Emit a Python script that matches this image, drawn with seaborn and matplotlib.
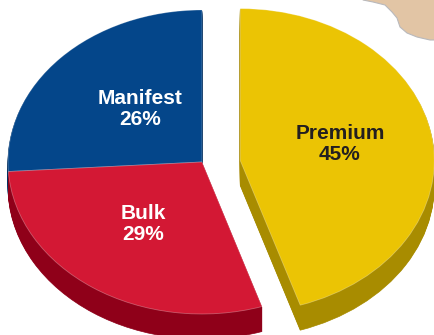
import matplotlib
matplotlib.use("Agg")
import matplotlib.pyplot as plt
import seaborn as sns
from matplotlib.patches import Polygon

# Traffic mix by segment
segments = ["Manifest", "Bulk", "Premium"]
shares = [26, 29, 45]
top_colors = ["#04468A", "#D31834", "#EBC404"]
side_colors = ["#032F60", "#8F0019", "#A88C00"]
label_colors = ["white", "white", "#231F20"]

sns.set_theme(style="white")
plt.rcParams["font.family"] = ["Liberation Sans", "DejaVu Sans"]

W, H = 435, 335
fig = plt.figure(figsize=(W / 100, H / 100), dpi=100)
fig.patch.set_facecolor("white")
ax = fig.add_axes([0, 0, 1, 1])

# Tilted view: circles in data space become ellipses on screen
RX, RY = 194, 152
k = RY / RX


def to_data(px, py):
    return px, (H - py) / k


cx, cy = to_data(202, 162)
depth = 25
# Pull the last segment out of the pie (offset in data units)
explode = [0, 0, 0.205 * RX]
# keep the pulled-out segment level with the rest of the pie
drop = 3.5 / k


def settle(wedges):
    for w, e in zip(wedges, explode):
        if e:
            x, y = w.center
            w.set_center((x - 1, y - drop))


# Beige decoration in the upper-right corner
blob_px = [(363, 0), (373, 2), (385, 5), (392, 12), (397, 18), (400, 27),
           (407, 33), (417, 37), (430, 40), (436, 40), (436, -1), (363, -1)]
ax.add_patch(Polygon([to_data(x, y) for x, y in blob_px], closed=True,
                     facecolor="#E2C5A5", edgecolor="#B9B9BC", linewidth=0.8,
                     zorder=0))

# Extruded sides: stacked copies of the pie shifted downwards
for off in range(depth, 0, -1):
    wedges, _ = ax.pie(shares, colors=side_colors, explode=explode,
                       startangle=90, counterclock=True, radius=RX,
                       center=(cx, cy - off / k), frame=True)
    settle(wedges)
    for w in wedges:
        w.set_edgecolor(w.get_facecolor())
        w.set_linewidth(0.5)

# Top surface
wedges, _ = ax.pie(shares, colors=top_colors, explode=explode, startangle=90,
                   counterclock=True, radius=RX, center=(cx, cy), frame=True)
settle(wedges)
for w in wedges:
    w.set_edgecolor((1, 1, 1, 0.3))
    w.set_linewidth(0.6)

label_pos = [(140, 109), (143, 224), (340, 144)]
for name, val, (px, py), col in zip(segments, shares, label_pos, label_colors):
    x, y = to_data(px, py)
    ax.text(x, y, f"{name}\n{val}%", ha="center", va="center", color=col,
            fontsize=15, fontweight="bold", linespacing=1.1, zorder=10)

ax.set_aspect("auto")
ax.set_xlim(0, W)
ax.set_ylim(0, H / k)
ax.axis("off")

fig.savefig("out.png", dpi=100, facecolor="white")
